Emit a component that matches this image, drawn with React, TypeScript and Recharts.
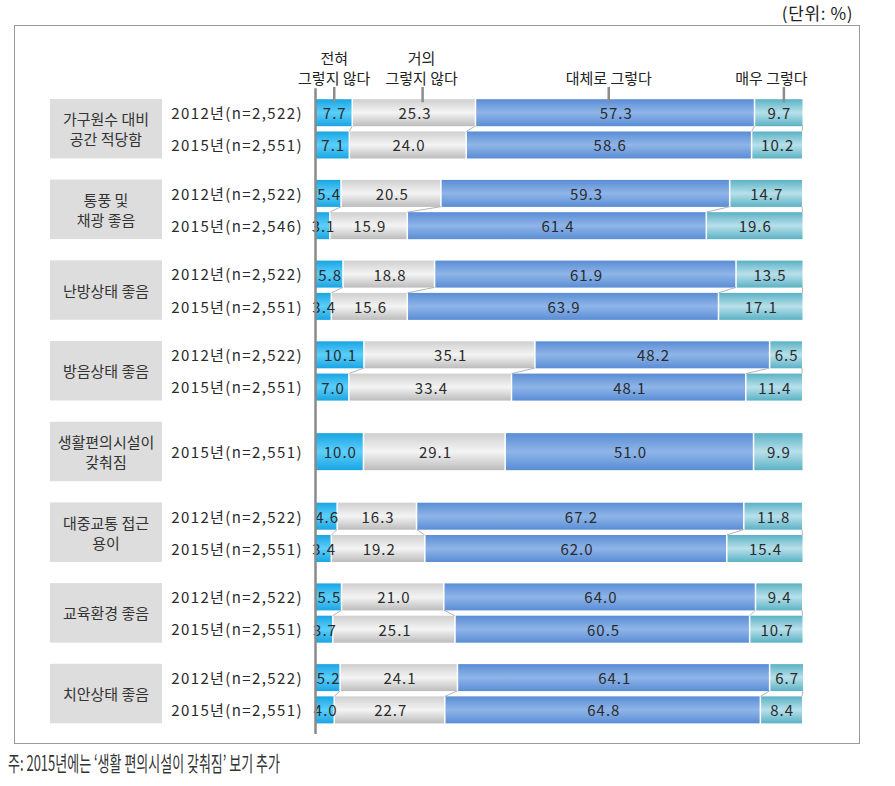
import React from 'react';
import { BarChart, Bar, XAxis, YAxis } from 'recharts';

const groupNames = [
  '가구원수 대비\n공간 적당함',
  '통풍 및\n채광 좋음',
  '난방상태 좋음',
  '방음상태 좋음',
  '생활편의시설이\n갖춰짐',
  '대중교통 접근\n용이',
  '교육환경 좋음',
  '치안상태 좋음',
];
const rowGroup = [0, 0, 1, 1, 2, 2, 3, 3, 4, 5, 5, 6, 6, 7, 7];
const rowYearLabels = [
  '2012년(n=2,522)', '2015년(n=2,551)',
  '2012년(n=2,522)', '2015년(n=2,546)',
  '2012년(n=2,522)', '2015년(n=2,551)',
  '2012년(n=2,522)', '2015년(n=2,551)',
  '2015년(n=2,551)',
  '2012년(n=2,522)', '2015년(n=2,551)',
  '2012년(n=2,522)', '2015년(n=2,551)',
  '2012년(n=2,522)', '2015년(n=2,551)',
];
const notAtAll = [7.7, 7.1, 5.4, 3.1, 5.8, 3.4, 10.1, 7.0, 10.0, 4.6, 3.4, 5.5, 3.7, 5.2, 4.0];
const notMuch = [25.3, 24.0, 20.5, 15.9, 18.8, 15.6, 35.1, 33.4, 29.1, 16.3, 19.2, 21.0, 25.1, 24.1, 22.7];
const mostly = [57.3, 58.6, 59.3, 61.4, 61.9, 63.9, 48.2, 48.1, 51.0, 67.2, 62.0, 64.0, 60.5, 64.1, 64.8];
const very = [9.7, 10.2, 14.7, 19.6, 13.5, 17.1, 6.5, 11.4, 9.9, 11.8, 15.4, 9.4, 10.7, 6.7, 8.4];
const seriesNames = ['전혀\n그렇지 않다', '거의\n그렇지 않다', '대체로 그렇다', '매우 그렇다'];
const seriesKeys = ['notAtAll', 'notMuch', 'mostly', 'very'];
const unitLabel = '(단위: %)';
const footnote = '주: 2015년에는 ‘생활 편의시설이 갖춰짐’ 보기 추가';

// styles
const FONT = "'Noto Sans CJK KR', 'Noto Sans', sans-serif";
const gradStops = [
  ['#19a5e2', '#5ccffc', '#19a5e2'],
  ['#cfcfcf', '#f4f4f4', '#bcbcbc'],
  ['#5a8dd5', '#8fb5e8', '#5a8dd5'],
  ['#5bb2c5', '#b8e0ea', '#5bb2c5'],
];
const markerDx = [0, 8, -7, 5];
const headerTextDx = [0, 7, -7, -7.5];
const BAR_H = 27;
const TALL_BAR_H = 37;

type Row = {
  key: string;
  year?: string;
  group?: string;
  tall?: boolean;
  first?: boolean;
  values?: number[];
  prev?: number[];
  [k: string]: any;
};

const table: Row[] = [];
let spacerCount = 0;
const addSpacer = (group?: string) => {
  table.push({ key: 's' + spacerCount++, group });
};
addSpacer();
const rowValues = (r: number) => [notAtAll[r], notMuch[r], mostly[r], very[r]];
groupNames.forEach((name, g) => {
  const rows = rowGroup.map((gg, idx) => (gg === g ? idx : -1)).filter((idx) => idx >= 0);
  if (g > 0) {
    const prevSingle = rowGroup.filter((x) => x === g - 1).length === 1;
    const single = rows.length === 1;
    const n = 2 + (prevSingle || single ? 1 : 0);
    for (let k = 0; k < n; k++) addSpacer();
  }
  rows.forEach((r, j) => {
    const vals = rowValues(r);
    const row: Row = {
      key: 'r' + r,
      year: rowYearLabels[r],
      group: rows.length === 1 ? name : undefined,
      tall: rows.length === 1,
      first: r === 0,
      values: vals,
      prev: j > 0 ? rowValues(rows[j - 1]) : undefined,
    };
    seriesKeys.forEach((k, s) => (row[k] = vals[s]));
    table.push(row);
    if (j === 0 && rows.length === 2) addSpacer(name);
  });
});
addSpacer();

const sum = (a: number[]) => a.reduce((p, c) => p + c, 0);

const YTick = (props: any) => {
  const { y, payload } = props;
  const row = table.find((r) => r.key === payload?.value);
  if (!row) return <g />;
  const lines = row.group ? row.group.split('\n') : [];
  return (
    <g>
      {row.group && (
        <rect x={50} y={y - 29.75} width={112} height={59.5} fill="#dddddd" />
      )}
      {lines.map((l, i) => (
        <text
          key={i}
          x={106}
          y={y + (i - (lines.length - 1) / 2) * 20}
          textAnchor="middle"
          dominantBaseline="central"
          fontSize={15}
          fontFamily={FONT}
          fill="#333"
        >
          {l}
        </text>
      ))}
      {row.year && (
        <text
          x={303}
          y={y}
          textAnchor="end"
          dominantBaseline="central"
          fontSize={15}
          letterSpacing={1.4}
          fontFamily={FONT}
          fill="#2a2a2a"
        >
          {row.year}
        </text>
      )}
    </g>
  );
};

const makeShape = (s: number) => (props: any) => {
  const { x, y, width, height, payload } = props;
  if (!payload || !payload.values || !width) return <g />;
  const vals: number[] = payload.values;
  const h = payload.tall ? TALL_BAR_H : BAR_H;
  const yy = y + height / 2 - h / 2;
  const ppp = width / vals[s];
  const left = x - sum(vals.slice(0, s)) * ppp;
  const els: any[] = [];
  els.push(
    <rect
      key="r"
      x={x}
      y={yy}
      width={Math.max(0, width - (s < 3 ? 1.5 : 0))}
      height={h}
      fill={`url(#grad${s})`}
    />
  );
  if (payload.prev) {
    const px = left + sum(payload.prev.slice(0, s + 1)) * ppp;
    els.push(
      <line key="c" x1={px - (s < 3 ? 0.75 : 0)} y1={yy - 5.5} x2={x + width - (s < 3 ? 0.75 : 0)} y2={yy} stroke="#b4b4b4" strokeWidth={1} />
    );
  }
  if (payload.first) {
    const center = x + width / 2;
    const mx = center + markerDx[s];
    els.push(<line key="m" x1={mx} y1={87} x2={mx} y2={yy + 3} stroke="#8c8c8c" strokeWidth={2.5} />);
    const ls = seriesNames[s].split('\n');
    ls.forEach((l, i) => {
      els.push(
        <text
          key={'h' + i}
          x={center + headerTextDx[s]}
          y={77 - (ls.length - 1 - i) * 20}
          textAnchor="middle"
          dominantBaseline="central"
          fontSize={15}
          fontFamily={FONT}
          fill="#222"
        >
          {l}
        </text>
      );
    });
  }
  if (s === 3) {
    let cum = 0;
    vals.forEach((v, k) => {
      const cx = left + (cum + v / 2) * ppp;
      cum += v;
      els.push(
        <text
          key={'t' + k}
          x={cx + 0.5}
          y={yy + h / 2}
          textAnchor="middle"
          dominantBaseline="central"
          fontSize={15}
          letterSpacing={1}
          fontFamily={FONT}
          fill="#2a2a2a"
        >
          {v.toFixed(1)}
        </text>
      );
    });
  }
  return <g>{els}</g>;
};

export default function App() {
  return (
    <div style={{ position: 'absolute', left: 0, top: 0, width: 895, height: 786, background: '#fff' }}>
      <div
        style={{
          position: 'absolute',
          left: 14,
          top: 25,
          width: 846,
          height: 719,
          border: '1.5px solid #9a9a9a',
          boxSizing: 'border-box',
        }}
      />
      <div style={{ position: 'absolute', left: 0, top: 0 }}>
        <BarChart
          width={895}
          height={786}
          data={table}
          layout="vertical"
          margin={{ top: 88.3, right: 92, bottom: 52.1, left: 15.5 }}
        >
          <defs>
            {gradStops.map((g, i) => (
              <linearGradient key={i} id={`grad${i}`} x1="0" y1="0" x2="0" y2="1">
                <stop offset="0%" stopColor={g[0]} />
                <stop offset="50%" stopColor={g[1]} />
                <stop offset="100%" stopColor={g[2]} />
              </linearGradient>
            ))}
          </defs>
          <XAxis type="number" domain={[0, 100]} hide />
          <YAxis
            type="category"
            dataKey="key"
            width={300}
            interval={0}
            tickLine={false}
            axisLine={{ stroke: '#8a8a8a', strokeWidth: 2.5 }}
            tick={(p: any) => <YTick {...p} />}
          />
          {seriesKeys.map((k, s) => (
            <Bar
              key={k}
              dataKey={k}
              stackId="a"
              barSize={27}
              isAnimationActive={false}
              shape={makeShape(s)}
            />
          ))}
        </BarChart>
      </div>
      <svg
        width={895}
        height={786}
        style={{ position: 'absolute', left: 0, top: 0, pointerEvents: 'none' }}
      >
        <text
          x={853}
          y={12}
          textAnchor="end"
          dominantBaseline="central"
          fontSize={17}
          letterSpacing={0.6}
          fontFamily={FONT}
          fill="#222"
        >
          {unitLabel}
        </text>
        <text
          x={8}
          y={762}
          dominantBaseline="central"
          fontSize={21}
          fontFamily={FONT}
          fill="#333"
          textLength={272}
          lengthAdjust="spacingAndGlyphs"
        >
          {footnote}
        </text>
      </svg>
    </div>
  );
}
